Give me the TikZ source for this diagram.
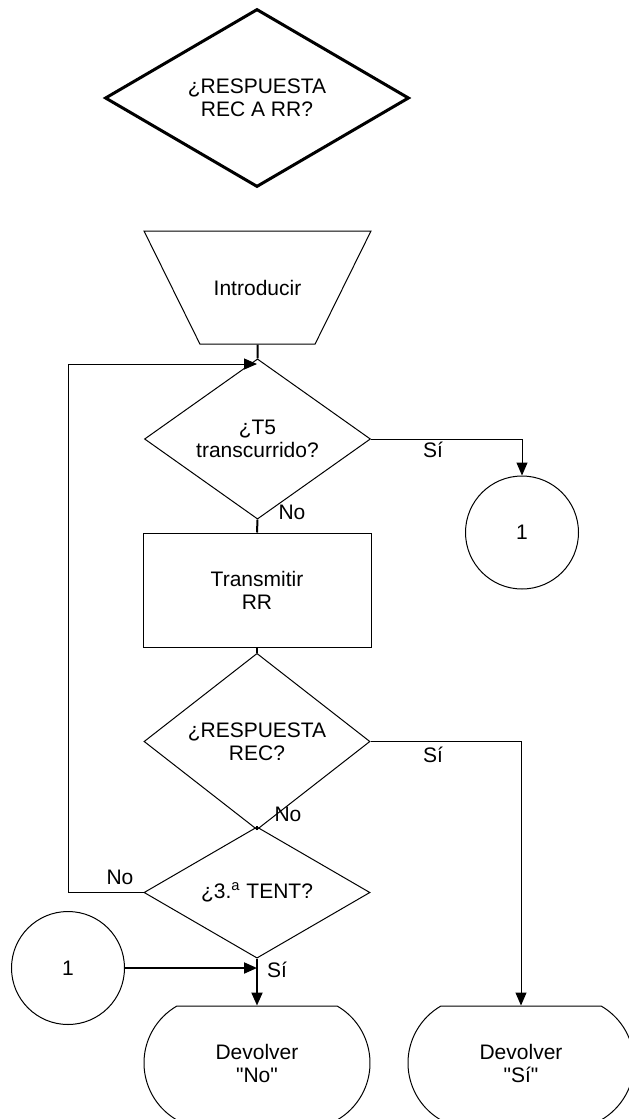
\documentclass[tikz,border=0pt]{standalone}
\usepackage{fontspec}
\setmainfont{Liberation Sans}
\usetikzlibrary{shapes.geometric,
	shapes.misc,
	arrows.meta,
	positioning}

\tikzset{
	flow/.style={draw, line width=0.5pt, align=center, inner sep=0pt, font=\fontsize{10.5}{11.5}\selectfont},
	decision/.style={flow, diamond, minimum width=113pt, minimum height=65.5pt},
	inbox/.style={flow, trapezium, trapezium left angle=116.4, trapezium right angle=116.4, trapezium stretches body=true, inner ysep=24.3pt, minimum width=113.5pt, minimum height=56.5pt},
	process/.style={flow, rectangle, minimum width=114pt, minimum height=57pt},
	connector/.style={flow, circle, minimum size=56.5pt},
	terminal/.style={flow, rounded rectangle, rounded rectangle arc length=120, minimum width=113pt, minimum height=57pt},
	wire/.style={line width=0.5pt},
	bold wire/.style={line width=1pt},
	tip/.style={-{Triangle[length=6.5pt,width=5.5pt]}},
	lbl/.style={inner sep=0pt, font=\fontsize{10.5}{11.5}\selectfont}
}

\begin{document}
\begin{tikzpicture}[x=0.5pt, y=-0.5pt]
	\useasboundingbox (0,0) rectangle (628,1119);

	% symbol on top
	\node[decision, line width=1.5pt, minimum width=152pt, minimum height=89pt] (query) at (257,98) {¿RESPUESTA\\REC A RR?};

	% flow chart
	\node[inbox] (enter) at (257.5,287.5) {Introducir};
	\node[decision] (timer) at (257.5,439) {¿T5\\transcurrido?};
	\node[process] (send) at (257,590) {Transmitir\\RR};
	\node[decision] (reply) at (257,741.5) {¿RESPUESTA\\REC?};
	\node[decision] (tries) at (257,892.5) {¿3.\textsuperscript{a} TENT?};
	\node[terminal] (retNo) at (257,1063) {Devolver\\\textquotedbl No\textquotedbl};
	\node[terminal] (retSi) at (521,1063) {Devolver\\\textquotedbl Sí\textquotedbl};
	\node[connector] (outOne) at (522,532.5) {1};
	\node[connector] (inOne) at (68,968) {1};

	\coordinate (loopIn) at (257,364);
	\coordinate (loopCorner) at (68,892.5);
	\coordinate (merge) at (257,968);

	\draw[bold wire] (enter.south) -- (timer.north);
	\draw[wire, tip] (tries.west) -- (loopCorner) |- (loopIn);
	\draw[wire, tip] (timer.east) -| (outOne.north);
	\draw[bold wire] (timer.south) -- (send.north);
	\draw[bold wire] (send.south) -- (reply.north);
	\draw[wire, tip] (reply.east) -| (retSi.north);
	\draw[bold wire] (reply.south) -- (tries.north);
	\draw[bold wire, tip] (inOne.east) -- (merge);
	\draw[bold wire, tip] (tries.south) -- (retNo.north);

	% branch labels
	\node[lbl] (siTimer) at (433,450) {Sí};
	\node[lbl] (noTimer) at (292,512) {No};
	\node[lbl] (siReply) at (433,755) {Sí};
	\node[lbl] (noReply) at (288,814) {No};
	\node[lbl] (noTries) at (120,877) {No};
	\node[lbl] (siTries) at (277,970) {Sí};
\end{tikzpicture}
\end{document}
